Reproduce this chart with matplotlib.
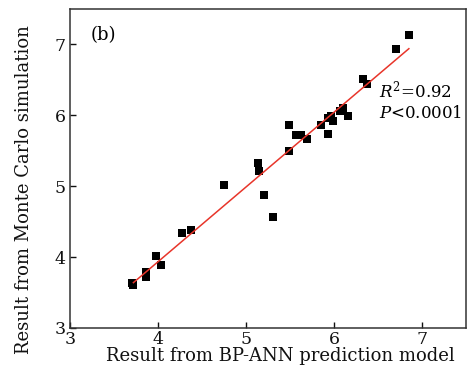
import matplotlib
matplotlib.use("Agg")
import matplotlib.pyplot as plt
import numpy as np

# BP-ANN prediction (x) vs Monte Carlo simulation (y)
pred = [3.70, 3.72, 3.86, 3.86, 3.98, 4.03, 4.27, 4.38, 4.75, 5.14,
        5.15, 5.20, 5.31, 5.49, 5.49, 5.57, 5.63, 5.69, 5.85, 5.93,
        5.93, 5.96, 5.99, 6.07, 6.10, 6.16, 6.33, 6.37, 6.70, 6.85]
sim = [3.63, 3.60, 3.79, 3.72, 4.02, 3.89, 4.34, 4.38, 5.02, 5.33,
       5.21, 4.88, 4.57, 5.87, 5.50, 5.72, 5.72, 5.66, 5.87, 5.74,
       5.96, 5.99, 5.92, 6.06, 6.11, 5.99, 6.51, 6.44, 6.94, 7.13]
fit_x = [3.72, 6.85]
fit_y = [3.64, 6.94]
ticks = [3, 4, 5, 6, 7]

plt.rcParams['font.family'] = ['DejaVu Serif']
plt.rcParams['mathtext.fontset'] = 'dejavuserif'

fig = plt.figure(figsize=(4.67, 3.74), dpi=100)
ax = fig.add_axes([0.150, 0.123, 0.848, 0.853])

ax.scatter(pred, sim, marker='s', s=32, color='black', zorder=2, linewidths=0)
ax.plot(fit_x, fit_y, color='#e8352a', lw=1.1, zorder=3)

ax.set_xlim(3, 7.5)
ax.set_ylim(3, 7.5)
ax.set_xticks(ticks)
ax.set_yticks(ticks)
ax.tick_params(direction='in', length=4, width=1, labelsize=12.5, colors='#111111',
               top=False, right=False, pad=3)
ax.tick_params(axis='x', pad=2)
for sp in ax.spines.values():
    sp.set_color('#333333')
    sp.set_linewidth(1.1)

ax.set_xlabel('Result from BP-ANN prediction model', fontsize=13, color='#111111')
ax.set_ylabel('Result from Monte Carlo simulation', fontsize=13, color='#111111')
ax.xaxis.set_label_coords(0.53, -0.058)
ax.yaxis.set_label_coords(-0.093, 0.435)

ax.text(0.052, 0.918, '(b)', transform=ax.transAxes, fontsize=13, va='center', ha='left')
ax.text(0.780, 0.745, '$R^2$=0.92', transform=ax.transAxes, fontsize=12, va='center', ha='left')
ax.text(0.780, 0.672, '$P$<0.0001', transform=ax.transAxes, fontsize=12, va='center', ha='left')

fig.savefig('out.png', dpi=100)
